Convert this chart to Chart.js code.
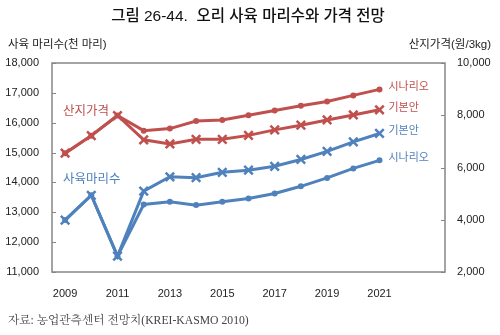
<!DOCTYPE html>
<html>
<head>
<meta charset="utf-8">
<script src="https://cdn.jsdelivr.net/npm/chart.js@4"></script>
<style>
  html, body { margin: 0; padding: 0; background: #fff; }
  #wrap { width: 500px; height: 335px; }
</style>
</head>
<body>
<div id="wrap"><canvas id="chart" width="500" height="335"></canvas></div>
<script>
const years = ['2009', '2010', '2011', '2012', '2013', '2014', '2015', '2016', '2017', '2018', '2019', '2020', '2021', '2022', '2023'];
const yearTicks = ['2009', '', '2011', '', '2013', '', '2015', '', '2017', '', '2019', '', '2021', '', ''];

// 사육 마리수 (천 마리) - left axis
const headBase = [12740, 13570, 11530, 13710, 14190, 14160, 14340, 14410, 14540, 14770, 15040, 15360, 15640];
const headScenario = [12740, 13570, 11530, 13260, 13350, 13240, 13350, 13460, 13630, 13870, 14150, 14470, 14740];

// 산지가격 (원/3kg) - right axis
const priceBase = [6550, 7220, 7990, 7060, 6900, 7080, 7080, 7230, 7440, 7620, 7820, 8010, 8210];
const priceScenario = [6550, 7220, 7990, 7410, 7490, 7780, 7820, 8000, 8180, 8360, 8530, 8760, 8990];

const RED = '#C0504D';
const BLUE = '#4F81BD';
const AXIS = '#868686';
const SANS = '"Liberation Sans", "Noto Sans CJK KR", sans-serif';

const endLabels = ['기본안', '시나리오', '기본안', '시나리오'];

const decor = {
  id: 'decor',
  afterDraw(chart) {
    const { ctx, chartArea: a, scales } = chart;
    ctx.save();

    // plot frame + inward ticks
    ctx.strokeStyle = AXIS;
    ctx.lineWidth = 1.5;
    ctx.strokeRect(a.left, a.top, a.right - a.left, a.bottom - a.top);
    ctx.lineWidth = 1;
    ctx.beginPath();
    scales.y.ticks.forEach(t => {
      const py = Math.round(scales.y.getPixelForValue(t.value)) + 0.5;
      ctx.moveTo(a.left, py); ctx.lineTo(a.left + 4, py);
    });
    scales.y1.ticks.forEach(t => {
      const py = Math.round(scales.y1.getPixelForValue(t.value)) + 0.5;
      ctx.moveTo(a.right - 4, py); ctx.lineTo(a.right, py);
    });
    ctx.stroke();

    // title
    ctx.fillStyle = '#111';
    ctx.textBaseline = 'middle';
    ctx.textAlign = 'center';
    ctx.font = '500 15.5px ' + SANS;
    ctx.fillText('그림 26-44.  오리 사육 마리수와 가격 전망', 248, 17);

    // axis titles
    ctx.font = '11.5px ' + SANS;
    ctx.fillStyle = '#222';
    ctx.textAlign = 'left';
    ctx.fillText('사육 마리수(천 마리)', 8, 45);
    ctx.textAlign = 'right';
    ctx.fillText('산지가격(원/3kg)', 491, 45);

    // source
    ctx.textAlign = 'left';
    ctx.fillStyle = '#444';
    ctx.font = '11.7px "Liberation Serif", "Noto Serif CJK KR", "Noto Sans CJK KR", serif';
    ctx.fillText('자료: 농업관측센터 전망치(KREI-KASMO 2010)', 8, 321);

    // series names inside the plot
    ctx.font = '12.5px ' + SANS;
    ctx.fillStyle = RED;
    ctx.fillText('산지가격', 63, 112);
    ctx.fillStyle = BLUE;
    ctx.fillText('사육마리수', 63, 180);

    // end-of-line labels
    ctx.font = '11px ' + SANS;
    chart.data.datasets.forEach((ds, i) => {
      const meta = chart.getDatasetMeta(i);
      const last = meta.data[ds.data.length - 1];
      ctx.fillStyle = ds.borderColor;
      ctx.fillText(endLabels[i], last.x + 9, last.y - 2);
    });

    ctx.restore();
  }
};

new Chart(document.getElementById('chart').getContext('2d'), {
  type: 'line',
  data: {
    labels: years,
    datasets: [
      {
        label: '산지가격 기본안',
        data: priceBase,
        yAxisID: 'y1',
        borderColor: RED,
        backgroundColor: RED,
        borderWidth: 3,
        pointStyle: 'crossRot',
        pointRadius: 6,
        pointBorderWidth: 2.5,
        order: 1
      },
      {
        label: '산지가격 시나리오',
        data: priceScenario,
        yAxisID: 'y1',
        borderColor: RED,
        backgroundColor: RED,
        borderWidth: 3,
        pointStyle: 'circle',
        pointRadius: 3,
        pointBorderWidth: 0,
        order: 2
      },
      {
        label: '사육마리수 기본안',
        data: headBase,
        yAxisID: 'y',
        borderColor: BLUE,
        backgroundColor: BLUE,
        borderWidth: 3,
        pointStyle: 'crossRot',
        pointRadius: 6,
        pointBorderWidth: 2.5,
        order: 3
      },
      {
        label: '사육마리수 시나리오',
        data: headScenario,
        yAxisID: 'y',
        borderColor: BLUE,
        backgroundColor: BLUE,
        borderWidth: 3,
        pointStyle: 'circle',
        pointRadius: 3,
        pointBorderWidth: 0,
        order: 4
      }
    ]
  },
  options: {
    responsive: false,
    animation: false,
    layout: { padding: { top: 63, bottom: 33, left: 0, right: 0 } },
    plugins: { legend: { display: false }, title: { display: false }, tooltip: { enabled: false } },
    scales: {
      x: {
        offset: true,
        grid: { display: false },
        border: { display: false },
        ticks: {
          color: '#222',
          font: { family: SANS, size: 11 },
          padding: 7,
          autoSkip: false,
          maxRotation: 0,
          callback: (v, i) => yearTicks[i]
        },
        afterFit: s => { s.height = 30; }
      },
      y: {
        position: 'left',
        min: 11000,
        max: 18000,
        grid: { drawOnChartArea: false, drawTicks: false },
        border: { display: false },
        ticks: {
          stepSize: 1000,
          color: '#222',
          font: { family: SANS, size: 11 },
          padding: 13,
          callback: v => v.toLocaleString('en-US')
        },
        afterFit: s => { s.width = 52; }
      },
      y1: {
        position: 'right',
        min: 2000,
        max: 10000,
        grid: { drawOnChartArea: false, drawTicks: false },
        border: { display: false },
        ticks: {
          stepSize: 2000,
          color: '#222',
          font: { family: SANS, size: 11 },
          padding: 12,
          callback: v => v.toLocaleString('en-US')
        },
        afterFit: s => { s.width = 55; }
      }
    }
  },
  plugins: [decor]
});
</script>
</body>
</html>
